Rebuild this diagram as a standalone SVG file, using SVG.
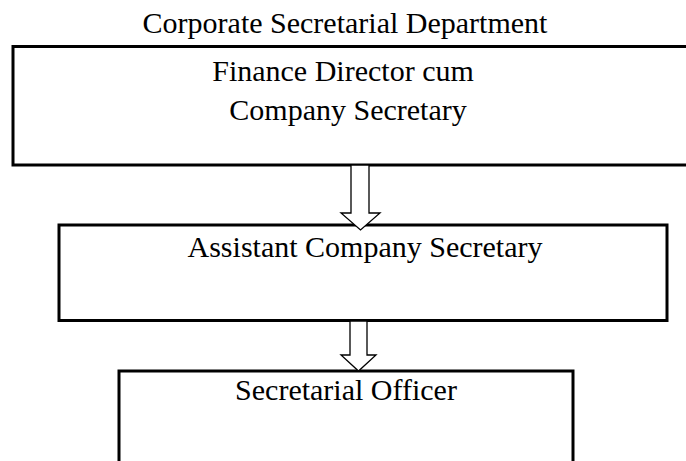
<svg xmlns="http://www.w3.org/2000/svg" width="686" height="461" viewBox="0 0 686 461">
  <style>
    .box { fill: #ffffff; stroke: #000000; stroke-width: 3; }
    .arrow { fill: #ffffff; stroke: #000000; stroke-width: 1.3; stroke-linejoin: miter; }
    .label { font-family: "Liberation Serif", "Times New Roman", serif; font-size: 30px; fill: #000000; text-anchor: middle; }
  </style>
  <rect width="686" height="461" fill="#ffffff"/>

  <text class="label" x="345" y="33">Corporate Secretarial Department</text>

  <g id="finance-director">
    <rect class="box" x="13" y="46.5" width="690" height="118.5"/>
    <text class="label" x="343" y="81">Finance Director cum</text>
    <text class="label" x="348" y="120">Company Secretary</text>
  </g>

  <g id="assistant-company-secretary">
    <rect class="box" x="59" y="225" width="608" height="95.5"/>
    <text class="label" x="365" y="257">Assistant Company Secretary</text>
  </g>

  <g id="secretarial-officer">
    <rect class="box" x="119" y="371" width="454" height="110"/>
    <text class="label" x="346" y="400">Secretarial Officer</text>
  </g>

  <g id="connectors">
    <path class="arrow" d="M351,165 L369,165 L369,213 L380,213 L360.5,230 L341,213 L351,213 Z"/>
    <path class="arrow" d="M350,321 L367,321 L367,355 L376,355 L358.5,371 L341,355 L350,355 Z"/>
  </g>
</svg>
